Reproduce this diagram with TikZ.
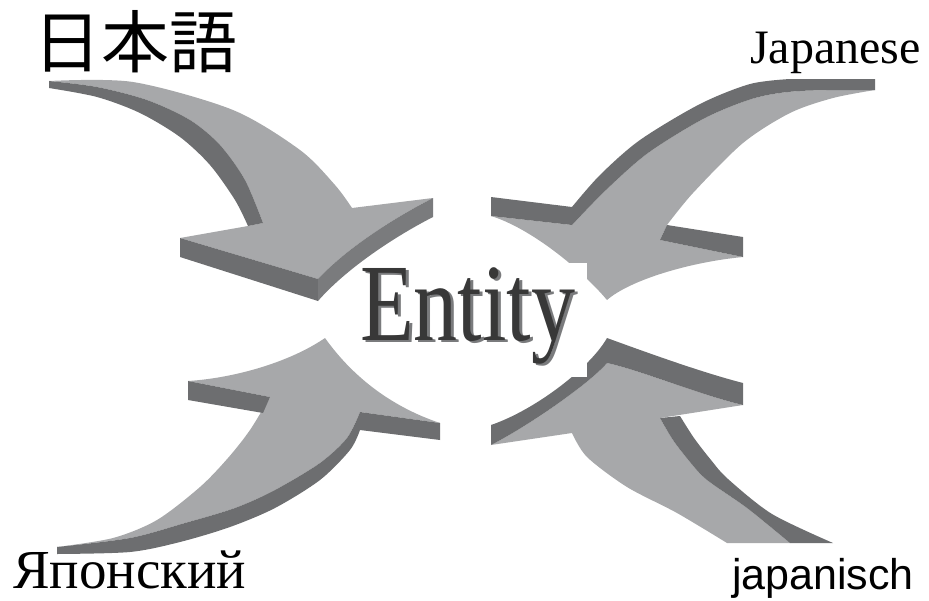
\documentclass[tikz,border=0pt]{standalone}
\usepackage{fontspec}
\setmainfont{Liberation Serif}
\newfontfamily\cjkfont{Noto Sans CJK JP}
\newfontfamily\germanfont{Liberation Sans}
\newfontfamily\entityfont[FakeStretch=0.8]{Liberation Serif}
\usepackage{tikz}
\definecolor{arrowtop}{HTML}{A7A8AA}
\definecolor{arrowside}{HTML}{6D6E70}
\definecolor{arrowfront}{HTML}{7A7B7D}
\newcommand{\shadowed}[1]{\makebox[0pt][l]{\kern3pt\raisebox{-2.5pt}{\textcolor{arrowfront}{#1}}}\textcolor{black!78}{#1}}

\begin{document}
\begin{tikzpicture}[x=1pt,y=-1pt,
  top/.style={fill=arrowtop},
  side/.style={fill=arrowside},
  front/.style={fill=arrowfront},
  word/.style={inner sep=0pt}]
\useasboundingbox (0,0) rectangle (929,600);

% upper left arrow
\fill[top] plot[smooth] coordinates {(49,81) (133,82) (233,110) (300,150) (335,185) (352,208)}
      -- (433,198) .. controls (390,220) and (345,250) .. (318,279)
      -- (180,238) -- (248,226) -- (263,223)
      -- plot[smooth] coordinates {(263,223) (245,180) (220,145) (190,120) (147,100) (97,87) (49,81)} -- cycle;
\fill[side] plot[smooth] coordinates {(49,81) (97,87) (147,100) (190,120) (220,145) (245,180) (263,223)}
      -- (248,226)
      -- plot[smooth] coordinates {(248,226) (235,200) (210,165) (180,137) (140,113) (97,97) (49,88)} -- cycle;
\fill[side] (180,238) -- (318,279) -- (318,301) -- (180,257) -- cycle;
\fill[front] (318,279) .. controls (345,250) and (390,220) .. (433,198)
      -- (433,217) .. controls (392,238) and (345,270) .. (318,301) -- cycle;

% upper right arrow
\fill[top] plot[smooth] coordinates {(875,90) (833,98) (790,113) (743,143) (693,193) (667,225)}
      -- (660,240) -- (743,257) .. controls (690,262) and (630,280) .. (607,300)
      .. controls (580,268) and (530,228) .. (491,216) -- (572,225)
      -- plot[smooth] coordinates {(572,225) (606,190) (648,153) (705,118) (755,98) (800,91) (875,90)} -- cycle;
\fill[side] (790,79) -- (875,79) -- (875,90)
      -- plot[smooth] coordinates {(875,90) (800,91) (755,98) (705,118) (648,153) (606,190) (572,225)}
      -- (572,207)
      -- plot[smooth] coordinates {(572,207) (600,175) (640,140) (700,104) (750,84) (790,79)} -- cycle;
\fill[side] (491,197) -- (572,207) -- (572,225) -- (491,216) -- cycle;
\fill[side] (667,225) -- (743,237) -- (743,257) -- (660,240) -- cycle;

% lower left arrow
\fill[top] plot[smooth] coordinates {(57,547) (130,538) (185,523) (235,508) (275,490) (320,463) (347,438) (360,412)}
      -- (440,423) .. controls (395,408) and (355,380) .. (325,338)
      .. controls (290,362) and (235,378) .. (188,381) -- (270,397)
      -- plot[smooth] coordinates {(270,397) (250,430) (228,458) (200,487) (157,520) (113,538) (57,547)} -- cycle;
\fill[side] (188,381) -- (270,397) -- (263,413) -- (188,400) -- cycle;
\fill[side] (360,412) -- (440,423) -- (440,440) -- (360,430)
      -- plot[smooth] coordinates {(360,430) (350,450) (320,480) (275,508) (230,527) (180,542) (130,552) (57,554)}
      -- (57,547)
      -- plot[smooth] coordinates {(57,547) (130,538) (185,523) (235,508) (275,490) (320,463) (347,438) (360,412)} -- cycle;

% lower right arrow
\fill[top] (607,363) .. controls (640,370) and (700,395) .. (743,405) -- (660,418)
      -- plot[smooth] coordinates {(660,418) (673,440) (690,462) (707,480) (747,508) (790,543)}
      -- (727,543)
      -- plot[smooth] coordinates {(727,543) (677,513) (627,487) (587,457) (572,433)}
      -- (491,445) .. controls (530,425) and (590,383) .. (607,363) -- cycle;
\fill[side] (660,418) -- (680,416)
      -- plot[smooth] coordinates {(680,416) (694,438) (711,460) (728,479) (772,514) (833,543)}
      -- (790,543)
      -- plot[smooth] coordinates {(790,543) (747,508) (707,480) (690,462) (673,440) (660,418)} -- cycle;
\fill[side] (491,425) .. controls (535,410) and (590,368) .. (607,338)
      .. controls (640,350) and (700,372) .. (743,383) -- (743,405)
      .. controls (700,395) and (640,370) .. (607,363)
      .. controls (590,383) and (530,425) .. (491,445) -- cycle;

% centre
\node[fill=white,minimum width=225,minimum height=114] (entitybox) at (474.5,320) {};
\node[word,anchor=base west,font=\entityfont\fontsize{110}{110}\selectfont]
      (entity) at (360,340) {\shadowed{Entity}};

% words
\node[word,font=\cjkfont\fontsize{68}{68}\selectfont] (kanji) at (135,42) {日本語};
\node[word,anchor=base east,font=\fontsize{48}{48}\selectfont] (english) at (921,63) {Japanese};
\node[word,anchor=base west,font=\fontsize{55}{55}\selectfont] (russian) at (13,588) {Японский};
\node[word,anchor=base east,font=\germanfont\fontsize{43}{43}\selectfont] (german) at (914,589) {japanisch};
\end{tikzpicture}
\end{document}
